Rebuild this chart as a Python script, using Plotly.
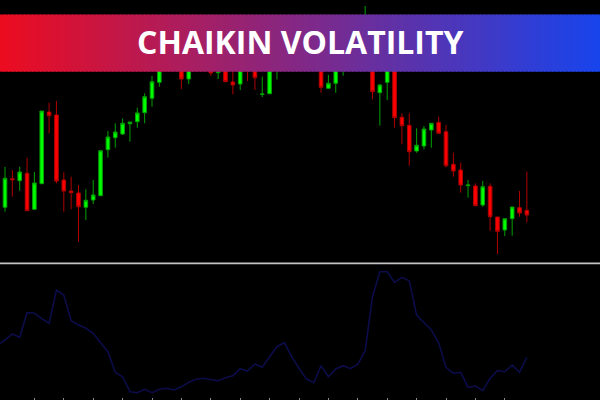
import plotly.graph_objects as go

# ---------------- data ----------------
candle_idx = list(range(72))
opens = [92.7, 121.3, 119.3, 126.7, 90.7, 116.3, 188.0, 185.0, 120.0, 109.0,
         107.0, 92.7, 100.0, 104.3, 150.3, 162.3, 166.0, 176.3, 178.3, 187.3,
         201.7, 217.7, 234.0, 245.0, 240.0, 221.0, 237.0, 250.0, 242.0, 227.3,
         234.0, 218.0, 216.0, 245.0, 238.0, 205.5, 206.3, 230.0, 244.0, 254.0,
         245.0, 258.0, 248.0, 238.0, 211.7, 216.7, 234.0, 250.0, 262.0, 275.0,
         281.0, 207.3, 217.7, 232.0, 182.7, 174.7, 149.0, 154.0, 170.0, 177.7,
         168.3, 135.7, 130.0, 114.3, 114.0, 95.0, 113.7, 83.0, 70.0, 81.3,
         92.3, 89.7]
highs = [133.0, 130.0, 133.3, 142.3, 128.0, 189.0, 197.3, 199.0, 127.7, 123.3,
         115.0, 110.7, 120.0, 149.3, 169.0, 176.7, 181.7, 178.0, 192.3, 206.7,
         224.0, 240.0, 250.0, 252.0, 245.0, 242.0, 255.0, 256.0, 248.0, 236.0,
         240.0, 232.0, 240.0, 250.0, 243.0, 223.3, 235.0, 250.0, 260.0, 260.0,
         264.0, 265.0, 255.0, 245.0, 225.0, 242.0, 260.0, 270.0, 280.0, 294.0,
         283.0, 216.0, 240.0, 238.0, 186.7, 186.7, 171.7, 174.0, 176.7, 183.3,
         175.0, 147.3, 137.3, 120.0, 116.7, 119.0, 116.7, 83.0, 81.3, 93.0,
         109.0, 128.3]
lows = [88.3, 103.3, 109.3, 89.3, 90.7, 116.3, 166.7, 116.7, 88.3, 90.7,
        58.3, 80.0, 96.0, 104.3, 142.3, 152.3, 165.0, 158.3, 172.3, 176.7,
        193.3, 213.3, 230.0, 232.0, 211.0, 216.0, 232.0, 234.0, 224.3, 221.0,
        218.0, 205.7, 210.0, 219.0, 210.0, 203.0, 206.0, 220.7, 235.0, 234.0,
        236.0, 238.0, 232.0, 207.3, 211.7, 207.3, 224.3, 242.0, 256.0, 266.0,
        200.7, 174.3, 200.0, 172.3, 155.7, 134.3, 147.3, 150.7, 152.3, 166.7,
        132.7, 123.3, 107.3, 102.3, 94.3, 93.3, 69.3, 46.0, 64.0, 64.3,
        83.3, 77.7]
closes = [121.7, 120.3, 128.0, 89.3, 117.0, 189.0, 184.3, 119.0, 109.0, 107.3,
          93.3, 99.7, 105.0, 149.3, 163.0, 168.0, 176.7, 178.0, 187.0, 203.3,
          218.3, 235.0, 245.0, 238.0, 221.0, 238.0, 250.0, 240.0, 227.0, 228.0,
          218.3, 215.0, 235.0, 230.0, 222.3, 206.0, 230.0, 245.0, 255.0, 245.0,
          258.0, 248.0, 240.0, 212.7, 216.7, 235.0, 250.0, 262.0, 275.0, 282.0,
          208.3, 215.0, 234.0, 182.3, 174.3, 148.3, 154.7, 171.0, 176.7, 166.7,
          134.3, 129.0, 115.0, 115.0, 94.3, 113.3, 83.3, 68.7, 81.3, 93.0,
          87.0, 85.0]

cv_idx = list(range(-1, 72))
chaikin = [55, 60, 66, 62.7, 87.3, 86.7, 81.3, 76.7, 110, 105,
           79.3, 75, 71.7, 66.7, 57.3, 48.3, 27.7, 23.3, 8.3, 7.3,
           10.7, 7.3, 10.7, 11.7, 10, 13.3, 17.7, 20.7, 21.7, 20.7,
           19.3, 22.3, 24.3, 31.3, 29, 36, 32.7, 43.3, 53.3, 57.3,
           43.3, 31.7, 21, 17.3, 34.3, 23.3, 31, 34.3, 31.3, 35.7,
           49.3, 103.3, 128.3, 128.3, 117.7, 122.7, 119.3, 85, 77.3, 70,
           57.3, 32.7, 26.7, 27.7, 12.7, 14, 9.3, 21.7, 29.3, 28.3,
           35, 27.7, 42.7]

time_ticks = list(range(4, 72, 4))
title_text = "CHAIKIN VOLATILITY"

# ---------------- figure ----------------
fig = go.Figure()

fig.add_trace(go.Candlestick(
    x=candle_idx, open=opens, high=highs, low=lows, close=closes,
    increasing=dict(line=dict(color="#00a000", width=1), fillcolor="#00ff00"),
    decreasing=dict(line=dict(color="#b00000", width=1), fillcolor="#ff0000"),
    whiskerwidth=0, xaxis="x", yaxis="y", showlegend=False, hoverinfo="skip"))

fig.add_trace(go.Scatter(
    x=cv_idx, y=chaikin, mode="lines",
    line=dict(color="#0c0c4a", width=1.6),
    xaxis="x2", yaxis="y2", showlegend=False, hoverinfo="skip"))

xr = [-0.68, 80.95]
fig.update_layout(
    width=600, height=400,
    margin=dict(l=0, r=0, t=0, b=0),
    paper_bgcolor="black", plot_bgcolor="black",
    xaxis=dict(domain=[0, 1], range=xr, visible=False,
               rangeslider=dict(visible=False), anchor="y"),
    yaxis=dict(domain=[0.3425, 1], range=[37, 300], visible=False, anchor="x"),
    xaxis2=dict(domain=[0, 1], range=xr, anchor="y2", showgrid=False,
                zeroline=False, showline=False, showticklabels=False,
                ticks="inside", ticklen=2, tickcolor="#8a8a8a",
                tickvals=time_ticks),
    yaxis2=dict(domain=[0, 0.34], range=[0, 136], visible=False, anchor="x2"),
)

# separator between panes
fig.add_shape(type="line", xref="paper", yref="paper", x0=0, x1=1,
              y0=0.3415, y1=0.3415, line=dict(color="#c4c4c4", width=1.6),
              layer="above")

# gradient banner built from thin strips
c0 = (236, 12, 32)
c1 = (24, 68, 236)
n = 150
y_top = 1 - 14.5 / 400
y_bot = 1 - 71.7 / 400
for k in range(n):
    t = k / (n - 1)
    col = tuple(round(c0[j] + (c1[j] - c0[j]) * t) for j in range(3))
    fig.add_shape(type="rect", xref="paper", yref="paper",
                  x0=k / n, x1=(k + 1) / n + 0.002, y0=y_bot, y1=y_top,
                  line=dict(width=0), fillcolor="rgb(%d,%d,%d)" % col,
                  layer="above")

fig.add_annotation(text="<b>" + title_text + "</b>", xref="paper", yref="paper",
                   x=0.5, y=1 - 42 / 400, xanchor="center", yanchor="middle",
                   showarrow=False,
                   font=dict(family="Open Sans", size=32, color="white"))

fig.write_html("out.html", config={"displayModeBar": False},
               post_script="document.body.style.margin='0px';")
